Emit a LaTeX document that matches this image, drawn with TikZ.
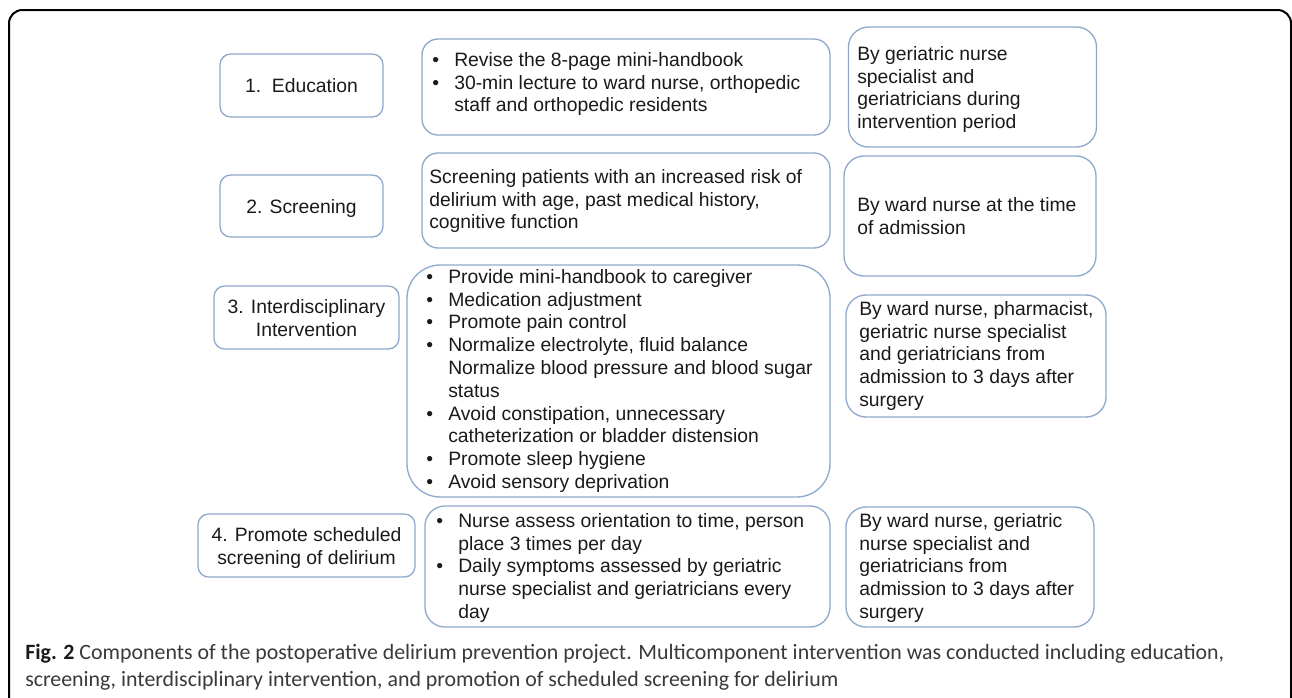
\documentclass[tikz,border=0pt]{standalone}
\usepackage{fontspec}
\setmainfont{Liberation Sans}
\newfontfamily\capfont{Carlito}
\definecolor{boxblue}{RGB}{143,170,204}
\definecolor{ink}{RGB}{26,26,26}
\definecolor{capgray}{RGB}{58,58,58}
% bullet hung to the left of the item text
\newcommand\bitem{\llap{\makebox[16.5pt][l]{•}}}
\begin{document}
\begin{tikzpicture}[x=0.75pt,y=-0.75pt,
  box/.style={draw=boxblue, line width=1pt, inner sep=0pt},
  txt/.style={inner sep=0pt, align=left, anchor=north west, text=ink,
              font=\fontsize{14.5pt}{17.1pt}\selectfont},
  ctxt/.style={txt, align=center, anchor=north}]
\useasboundingbox (0,0) rectangle (1292,697);
\fill[white] (0,0) rectangle (1292,697);

% outer frame (runs past the lower edge)
\draw[line width=1.5pt, rounded corners=10pt] (9,10) rectangle (1291,760);

% ---- left column: components
\node[box, rounded corners=8pt, minimum width=163*0.75pt, minimum height=63*0.75pt] (l1) at (301.5,85.5) {};
\node[box, rounded corners=8pt, minimum width=163*0.75pt, minimum height=62*0.75pt] (l2) at (301.5,206) {};
\node[box, rounded corners=8pt, minimum width=185*0.75pt, minimum height=63*0.75pt] (l3) at (306.5,317.5) {};
\node[box, rounded corners=8pt, minimum width=217*0.75pt, minimum height=63*0.75pt] (l4) at (306.5,545.5) {};

\node[ctxt] (l1t) at (301.5,76.5) {\strut 1.\ \ Education};
\node[ctxt] (l2t) at (301.5,197.3) {\strut 2. Screening};
\node[ctxt] (l3t) at (306.5,297.3) {\strut 3. Interdisciplinary\\ Intervention};
\node[ctxt] (l4t) at (306.5,525) {\strut 4. Promote scheduled\\ screening of delirium};

% ---- middle column: actions
\node[box, rounded corners=12pt, minimum width=408*0.75pt, minimum height=96*0.75pt] (m1) at (626,87) {};
\node[box, rounded corners=12pt, minimum width=408*0.75pt, minimum height=95*0.75pt] (m2) at (626,200.5) {};
\node[box, rounded corners=25pt, minimum width=423*0.75pt, minimum height=232*0.75pt] (m3) at (618.5,381) {};
\node[box, rounded corners=15pt, minimum width=405*0.75pt, minimum height=121*0.75pt] (m4) at (627.5,566.5) {};

\node[txt] (m1t) at (454,50) {\strut\bitem Revise the 8-page mini-handbook\\
  \bitem 30-min lecture to ward nurse, orthopedic\\
  staff and orthopedic residents};
\node[txt] (m2t) at (429,167) {\strut Screening patients with an increased risk of\\
  delirium with age, past medical history,\\
  cognitive function};
\node[txt] (m3t) at (448,267) {\strut\bitem Provide mini-handbook to caregiver\\
  \bitem Medication adjustment\\
  \bitem Promote pain control\\
  \bitem Normalize electrolyte, fluid balance\\
  Normalize blood pressure and blood sugar\\
  status\\
  \bitem Avoid constipation, unnecessary\\
  catheterization or bladder distension\\
  \bitem Promote sleep hygiene\\
  \bitem Avoid sensory deprivation};
\node[txt] (m4t) at (458,511) {\strut\bitem Nurse assess orientation to time, person\\
  place 3 times per day\\
  \bitem Daily symptoms assessed by geriatric\\
  nurse specialist and geriatricians every\\
  day};

% ---- right column: who and when
\node[box, rounded corners=15pt, minimum width=248*0.75pt, minimum height=120*0.75pt] (r1) at (972.5,87) {};
\node[box, rounded corners=15pt, minimum width=252*0.75pt, minimum height=120*0.75pt] (r2) at (970,216) {};
\node[box, rounded corners=15pt, minimum width=260*0.75pt, minimum height=122*0.75pt] (r3) at (976,356) {};
\node[box, rounded corners=15pt, minimum width=248*0.75pt, minimum height=120*0.75pt] (r4) at (970,567) {};

\node[txt] (r1t) at (857,44) {\strut By geriatric nurse\\ specialist and\\ geriatricians during\\ intervention period};
\node[txt] (r2t) at (857,195) {\strut By ward nurse at the time\\ of admission};
\node[txt] (r3t) at (859,299) {\strut By ward nurse, pharmacist,\\ geriatric nurse specialist\\ and geriatricians from\\ admission to 3 days after\\ surgery};
\node[txt] (r4t) at (859,511) {\strut By ward nurse, geriatric\\ nurse specialist and\\ geriatricians from\\ admission to 3 days after\\ surgery};

% ---- caption (anchored at the baseline of its last line)
\node[inner sep=0pt, anchor=base west, align=left, text=capgray,
      font=\capfont\fontsize{16.4pt}{20.25pt}\selectfont] (cap) at (25,686)
  {{\bfseries\color{ink}Fig. 2} Components of the postoperative delirium prevention project. Multicomponent intervention was conducted including education,\\
   screening, interdisciplinary intervention, and promotion of scheduled screening for delirium};
\end{tikzpicture}
\end{document}
